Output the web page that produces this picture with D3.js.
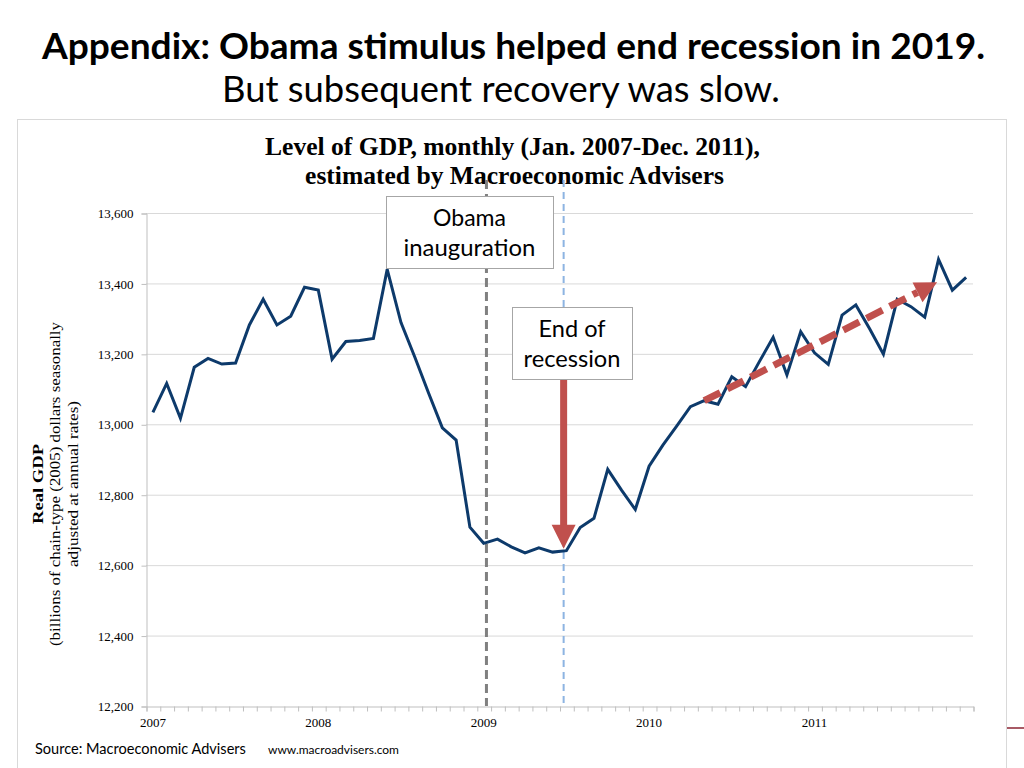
<!DOCTYPE html>
<html>
<head>
<meta charset="utf-8">
<script src="https://cdn.jsdelivr.net/npm/d3@7"></script>
<style>
  html, body { margin: 0; padding: 0; background: #fff; }
  svg { display: block; }
</style>
</head>
<body>
<svg id="chart" width="1024" height="768"></svg>
<script>
// ---------------- data ----------------
const yearLabels = ["2007", "2008", "2009", "2010", "2011"];
const monthsPerYear = 12;
// Real GDP, monthly Jan 2007 - Dec 2011 (billions of chained 2005 dollars, SAAR)
const gdp = [
  13034, 13116, 13017, 13162, 13187, 13171, 13174, 13282, 13355, 13282, 13307, 13389,
  13381, 13185, 13235, 13238, 13244, 13440, 13289, 13191, 13089, 12990, 12955, 12708,
  12662, 12674, 12652, 12635, 12649, 12637, 12641, 12707, 12733, 12872, 12813, 12758,
  12881, 12941, 12995, 13050, 13067, 13057, 13135, 13107, 13178, 13247, 13140, 13263,
  13203, 13170, 13310, 13339, 13271, 13199, 13355, 13334, 13304, 13468, 13381, 13417
];
const yTicks = [12200, 12400, 12600, 12800, 13000, 13200, 13400, 13600];
// event markers (position on the month axis, in months since Jan 2007)
const inaugurationPos = 24.7;
const recessionEndPos = 30.3;
// trend arrow: [month index, value]
const trendStart = [40, 13067];
const trendEnd = [56.9, 13403];

const titleLines = ["Appendix: Obama stimulus helped end recession in 2019.", "But subsequent recovery was slow."];
const chartTitleLines = ["Level of GDP, monthly (Jan. 2007-Dec. 2011),", "estimated by Macroeconomic Advisers"];
const yTitleLines = ["Real GDP", "(billions of chain-type (2005) dollars seasonally", "adjusted at annual rates)"];

// ---------------- layout ----------------
const svg = d3.select("#chart");
const plot = { left: 146, right: 973, top: 213, bottom: 706 };
const x = d3.scaleLinear().domain([0, gdp.length]).range([plot.left, plot.right]);
const y = d3.scaleLinear().domain([12200, 13600]).range([plot.bottom, plot.top]);

const sans = "Lato, 'Open Sans', sans-serif";
const serif = "'Liberation Serif', 'Times New Roman', serif";

function fitText(sel, target) {
  const node = sel.node();
  const fs = parseFloat(sel.attr("font-size"));
  const w = node.getComputedTextLength();
  if (w > 0) sel.attr("font-size", (fs * target / w).toFixed(2));
  return sel;
}

// ---------------- slide title ----------------
fitText(svg.append("text").attr("x", 513.5).attr("y", 59).attr("text-anchor", "middle")
  .attr("font-family", sans).attr("font-weight", "bold").attr("font-size", 32)
  .attr("fill", "#000").text(titleLines[0]), 943);
fitText(svg.append("text").attr("x", 501).attr("y", 102).attr("text-anchor", "middle")
  .attr("font-family", sans).attr("font-size", 32)
  .attr("fill", "#000").text(titleLines[1]), 558);

// chart frame
svg.append("rect").attr("x", 17.5).attr("y", 119.5).attr("width", 989).attr("height", 660)
  .attr("fill", "none").attr("stroke", "#d9d9d9").attr("stroke-width", 1);

// chart title
fitText(svg.append("text").attr("x", 512.5).attr("y", 155).attr("text-anchor", "middle")
  .attr("font-family", serif).attr("font-weight", "bold").attr("font-size", 22)
  .text(chartTitleLines[0]), 495);
fitText(svg.append("text").attr("x", 514.5).attr("y", 184).attr("text-anchor", "middle")
  .attr("font-family", serif).attr("font-weight", "bold").attr("font-size", 22)
  .text(chartTitleLines[1]), 419);

// ---------------- gridlines & axes ----------------
const grid = svg.append("g");
grid.selectAll("line").data(yTicks.filter(d => d !== 12200)).join("line")
  .attr("x1", plot.left).attr("x2", plot.right)
  .attr("y1", d => y(d) + 0.5).attr("y2", d => y(d) + 0.5)
  .attr("stroke", "#d9d9d9").attr("stroke-width", 1);

const yAxis = d3.axisLeft(y).tickValues(yTicks).tickSize(5).tickPadding(8)
  .tickFormat(d3.format(","));
const gy = svg.append("g").attr("transform", `translate(${plot.left + 0.5},0.5)`).call(yAxis);
gy.select(".domain").attr("stroke", "#bfbfbf");
gy.selectAll(".tick line").attr("stroke", "#bfbfbf");
gy.selectAll(".tick text").attr("font-family", serif).attr("font-size", 13).attr("fill", "#000");

const monthTicks = d3.range(0, gdp.length + 1);
const xAxis = d3.axisBottom(x).tickValues(monthTicks).tickSize(5).tickFormat("");
const gx = svg.append("g").attr("transform", `translate(0.5,${plot.bottom + 0.5})`).call(xAxis);
gx.select(".domain").attr("stroke", "#bfbfbf");
gx.selectAll(".tick line").attr("stroke", "#bfbfbf");

svg.append("g").selectAll("text").data(yearLabels).join("text")
  .attr("x", (d, i) => x(i * monthsPerYear + 0.5))
  .attr("y", 727)
  .attr("text-anchor", "middle")
  .attr("font-family", serif).attr("font-size", 13)
  .text(d => d);

// y axis title (stretched along the baseline like the original)
const yt = svg.append("g").attr("transform", "translate(0,484)");
const yTitleX = [43, 60, 78];
const yTitleLen = [80, 324, 166];
yTitleLines.forEach((t, i) => {
  yt.append("text")
    .attr("transform", `translate(${yTitleX[i]},0) rotate(-90)`)
    .attr("text-anchor", "middle")
    .attr("font-family", serif)
    .attr("font-size", 15)
    .attr("font-weight", i === 0 ? "bold" : "normal")
    .attr("textLength", yTitleLen[i])
    .attr("lengthAdjust", "spacingAndGlyphs")
    .text(t);
});

// ---------------- event lines ----------------
svg.append("line")
  .attr("x1", x(inaugurationPos)).attr("x2", x(inaugurationPos))
  .attr("y1", 180).attr("y2", plot.bottom)
  .attr("stroke", "#808080").attr("stroke-width", 3).attr("stroke-dasharray", "9,5");
svg.append("line")
  .attr("x1", x(recessionEndPos)).attr("x2", x(recessionEndPos))
  .attr("y1", 180).attr("y2", plot.bottom)
  .attr("stroke", "#8db4e2").attr("stroke-width", 2).attr("stroke-dasharray", "7,5");

// ---------------- GDP line ----------------
const line = d3.line().x((d, i) => x(i + 0.5)).y(d => y(d));
svg.append("path").datum(gdp)
  .attr("d", line)
  .attr("fill", "none")
  .attr("stroke", "#0d3a6b")
  .attr("stroke-width", 3)
  .attr("stroke-linejoin", "miter");

// ---------------- trend arrow ----------------
const red = "#c0504d";
const sx = x(trendStart[0] + 0.5), sy = y(trendStart[1]);
const ex = x(trendEnd[0] + 0.5), ey = y(trendEnd[1]);
const ang = Math.atan2(ey - sy, ex - sx);
const headLen = 22, headW = 11;
const bx = ex - headLen * Math.cos(ang), by = ey - headLen * Math.sin(ang);
svg.append("line")
  .attr("x1", sx).attr("y1", sy).attr("x2", bx).attr("y2", by)
  .attr("stroke", red).attr("stroke-width", 7).attr("stroke-dasharray", "18,8");
svg.append("path")
  .attr("d", `M${ex},${ey} L${bx + headW * Math.sin(ang)},${by - headW * Math.cos(ang)} L${bx - headW * Math.sin(ang)},${by + headW * Math.cos(ang)} Z`)
  .attr("fill", red);

// ---------------- annotation boxes ----------------
function box(x0, y0, w, h, lines, widths, baselines) {
  svg.append("rect").attr("x", x0 + 0.5).attr("y", y0 + 0.5).attr("width", w).attr("height", h)
    .attr("fill", "#fff").attr("stroke", "#a6a6a6").attr("stroke-width", 1);
  lines.forEach((t, i) => {
    fitText(svg.append("text").attr("x", x0 + w / 2).attr("y", baselines[i])
      .attr("text-anchor", "middle").attr("font-family", sans).attr("font-size", 21)
      .attr("fill", "#000").text(t), widths[i]);
  });
}
box(386, 196, 167, 72, ["Obama", "inauguration"], [73, 132], [226, 256]);

// recession arrow (vertical)
const arrowX = x(recessionEndPos);
const tipY = y(gdp[30]) - 2;
svg.append("rect").attr("x", arrowX - 3.5).attr("y", 379).attr("width", 7).attr("height", tipY - 24 - 379 + 1)
  .attr("fill", red);
svg.append("path")
  .attr("d", `M${arrowX},${tipY} L${arrowX - 12},${tipY - 24} L${arrowX + 12},${tipY - 24} Z`)
  .attr("fill", red);

box(512, 307, 120, 72, ["End of", "recession"], [67, 97], [337, 367]);

// ---------------- source ----------------
fitText(svg.append("text").attr("x", 35).attr("y", 754).attr("font-family", sans).attr("font-size", 13)
  .text("Source: Macroeconomic Advisers"), 211);
fitText(svg.append("text").attr("x", 268).attr("y", 754).attr("font-family", sans).attr("font-size", 11)
  .text("www.macroadvisers.com"), 131);

// slide edge decoration
svg.append("line").attr("x1", 1007).attr("x2", 1024).attr("y1", 728).attr("y2", 728)
  .attr("stroke", "#8b2332").attr("stroke-width", 1.5);
</script>
</body>
</html>
